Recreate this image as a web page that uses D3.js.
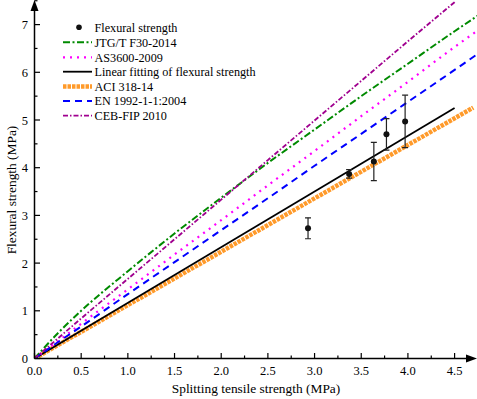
<!DOCTYPE html>
<html><head><meta charset="utf-8">
<script src="https://cdn.jsdelivr.net/npm/d3@7/dist/d3.min.js"></script>
<style>body{margin:0;background:#fff}svg{display:block}</style>
</head><body><svg id="c" width="477" height="399" font-family="'Liberation Serif', 'Times New Roman', Times, serif"></svg>
<script>
// Data
const xTicks = [0.0, 0.5, 1.0, 1.5, 2.0, 2.5, 3.0, 3.5, 4.0, 4.5];
const yTicks = [0, 1, 2, 3, 4, 5, 6, 7];
const expX = [2.93, 3.37, 3.635, 3.77, 3.97];
const expY = [2.73, 3.87, 4.13, 4.70, 4.97];
const expErr = [0.22, 0.09, 0.40, 0.33, 0.55];
const curveX = [0, 0.25, 0.5, 1.0, 1.5, 2.0, 2.5, 3.0, 3.5, 4.0, 4.5, 4.75];
const jtgY  = [0, 0.53, 1.00, 1.83, 2.62, 3.37, 4.10, 4.80, 5.50, 6.18, 6.86, 7.19];
const asY   = [0, 0.36, 0.73, 1.45, 2.18, 2.90, 3.63, 4.35, 5.08, 5.80, 6.53, 6.88];
const enY   = [0, 0.34, 0.67, 1.35, 2.02, 2.69, 3.36, 4.04, 4.71, 5.38, 6.05, 6.39];
const cebX  = [0, 0.25, 0.5, 1.0, 1.5, 2.0, 2.5, 3.0, 3.5, 4.0, 4.5];
const cebY  = [0, 0.42, 0.84, 1.67, 2.50, 3.33, 4.16, 4.99, 5.82, 6.65, 7.47];
const aciX  = [0, 4.7];
const aciY  = [0, 5.26];
const fitX  = [0, 4.5];
const fitY  = [0, 5.25];
const legendLabels = ["Flexural strength","JTG/T F30-2014","AS3600-2009","Linear fitting of flexural strength","ACI 318-14","EN 1992-1-1:2004","CEB-FIP 2010"];

const FONT = "'Liberation Serif', 'Times New Roman', Times, serif";
const svg = d3.select("#c");
const x = d3.scaleLinear().domain([0, 4.74]).range([34.5, 477]);
const y = d3.scaleLinear().domain([0, 7.5]).range([358.5, 0.75]);

svg.append("defs").append("clipPath").attr("id","clip").append("rect")
  .attr("x",34.5).attr("y",0).attr("width",443).attr("height",359);
const plot = svg.append("g").attr("clip-path","url(#clip)");

const series = [
  {xs: curveX, ys: jtgY, color:"#008a00", w:2, dash:"7,2.5,2,2.5"},
  {xs: curveX, ys: asY,  color:"#ff00ff", w:2.2, dash:"2,5"},
  {xs: curveX, ys: enY,  color:"#0000ff", w:2, dash:"7,5"},
  {xs: cebX,   ys: cebY, color:"#a0008f", w:1.8, dash:"5,2,1.5,2"},
];
const line = d3.line().x(d=>x(d[0])).y(d=>y(d[1])).curve(d3.curveMonotoneX);

plot.append("path").datum(d3.zip(aciX, aciY)).attr("d", line)
  .attr("fill","none").attr("stroke","#ff9a2a").attr("stroke-width",4.5).attr("stroke-dasharray","3.5,1");
plot.append("path").datum(d3.zip(fitX, fitY)).attr("d", line)
  .attr("fill","none").attr("stroke","#000").attr("stroke-width",1.8);
series.forEach(s=>{
  plot.append("path").datum(d3.zip(s.xs, s.ys)).attr("d", line)
    .attr("fill","none").attr("stroke",s.color).attr("stroke-width",s.w).attr("stroke-dasharray",s.dash);
});

const eg = plot.append("g");
expX.forEach((xv,i)=>{
  const cx = x(xv), top = y(expY[i]+expErr[i]), bot = y(expY[i]-expErr[i]);
  eg.append("line").attr("x1",cx).attr("x2",cx).attr("y1",top).attr("y2",bot).attr("stroke","#222").attr("stroke-width",1.2);
  [top,bot].forEach(v=>eg.append("line").attr("x1",cx-3).attr("x2",cx+3).attr("y1",v).attr("y2",v).attr("stroke","#222").attr("stroke-width",1.2));
  eg.append("circle").attr("cx",cx).attr("cy",y(expY[i])).attr("r",3).attr("fill","#111");
});

const ax = svg.append("g");
ax.append("line").attr("x1",34.5).attr("x2",470).attr("y1",358.5).attr("y2",358.5).attr("stroke","#000").attr("stroke-width",1.5);
ax.append("path").attr("d","M477,358.5 L466,354.5 L466,362.5 Z").attr("fill","#000");
ax.append("line").attr("x1",34.5).attr("x2",34.5).attr("y1",358.5).attr("y2",8).attr("stroke","#000").attr("stroke-width",1.5);
ax.append("path").attr("d","M34.5,0 L30.5,11 L38.5,11 Z").attr("fill","#000");

xTicks.forEach(t=>{
  ax.append("line").attr("x1",x(t)).attr("x2",x(t)).attr("y1",358.5).attr("y2",353).attr("stroke","#000").attr("stroke-width",1.2);
  ax.append("line").attr("x1",x(t+0.25)).attr("x2",x(t+0.25)).attr("y1",358.5).attr("y2",355.5).attr("stroke","#000").attr("stroke-width",1.2);
  ax.append("text").attr("x",x(t)).attr("y",375).attr("text-anchor","middle").attr("font-size",12.5).attr("font-family",FONT).text(d3.format(".1f")(t));
});
yTicks.forEach(t=>{
  ax.append("line").attr("x1",34.5).attr("x2",40).attr("y1",y(t)).attr("y2",y(t)).attr("stroke","#000").attr("stroke-width",1.2);
  ax.append("line").attr("x1",34.5).attr("x2",37.5).attr("y1",y(t+0.5)).attr("y2",y(t+0.5)).attr("stroke","#000").attr("stroke-width",1.2);
  ax.append("text").attr("x",28).attr("y",y(t)+4.5).attr("text-anchor","end").attr("font-size",12.5).attr("font-family",FONT).text(t);
});
svg.append("text").attr("x",256).attr("y",393).attr("text-anchor","middle").attr("font-size",13.4).attr("font-family",FONT).text("Splitting tensile strength (MPa)");
svg.append("text").attr("transform","translate(16,190) rotate(-90)").attr("text-anchor","middle").attr("font-size",13.4).attr("font-family",FONT).text("Flexural strength (MPa)");

const lg = svg.append("g");
const legStyles = [
  {type:"dot"},
  {color:"#008a00", w:2, dash:"7,2.5,2,2.5"},
  {color:"#ff00ff", w:2.2, dash:"2,5"},
  {color:"#000", w:1.8, dash:null},
  {color:"#ff9a2a", w:4.5, dash:"3.5,1"},
  {color:"#0000ff", w:2, dash:"7,5"},
  {color:"#a0008f", w:1.8, dash:"5,2,1.5,2"},
];
const legY = [27.3, 42.3, 57.3, 71.7, 86.5, 101, 115.7];
legendLabels.forEach((lab,i)=>{
  const s = legStyles[i];
  if(s.type==="dot"){
    lg.append("circle").attr("cx",79).attr("cy",legY[i]).attr("r",2.8).attr("fill","#111");
  } else {
    lg.append("line").attr("x1",63).attr("x2",92).attr("y1",legY[i]).attr("y2",legY[i])
      .attr("stroke",s.color).attr("stroke-width",s.w).attr("stroke-dasharray",s.dash);
  }
  lg.append("text").attr("x",94.5).attr("y",legY[i]+4.3).attr("font-size",12.2).attr("font-family",FONT).text(lab);
});
</script></body></html>
